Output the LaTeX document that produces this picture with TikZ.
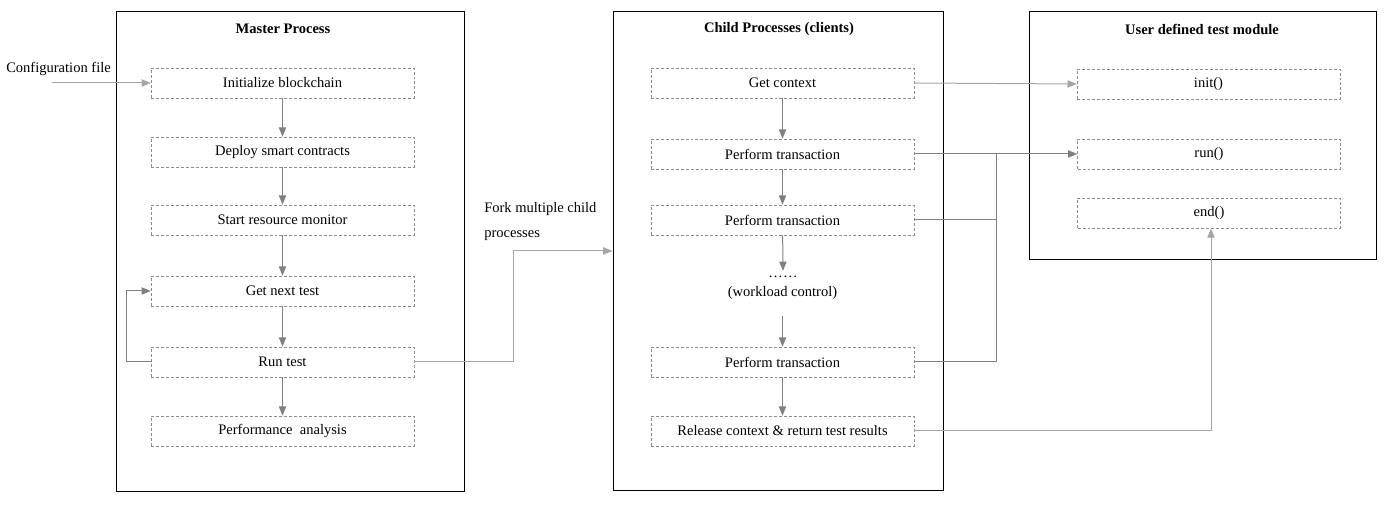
\documentclass[tikz,border=0pt]{standalone}
\usepackage{fontspec}
\setmainfont{Liberation Serif}
\usetikzlibrary{arrows.meta,positioning,calc}

\definecolor{flowgray}{RGB}{128,128,128}
\definecolor{lightflow}{RGB}{165,165,165}
\definecolor{dashgray}{RGB}{140,140,140}

\tikzset{
  outerbox/.style={draw=black, line width=0.75pt},
  stepbox/.style={draw=dashgray, dash pattern=on 2.2pt off 1.5pt, line width=0.5pt,
    minimum width=197pt, minimum height=22.5pt, inner sep=0pt},
  boxtitle/.style={font=\fontsize{10.9}{13}\selectfont\bfseries},
  flow/.style={draw=flowgray, line width=0.75pt, -{Triangle[length=7pt,width=5.5pt]}},
  flowplain/.style={draw=flowgray, line width=0.75pt},
}

\begin{document}
\begin{tikzpicture}[x=0.75pt, y=-0.75pt, font=\fontsize{10.9}{13}\selectfont]
    \useasboundingbox (0,0) rectangle (1393,505);

    % Outer containers
    \node[outerbox, minimum width=261pt, minimum height=360pt] (MasterBox) at (290,252) {};
    \node[outerbox, minimum width=247.5pt, minimum height=359.25pt] (ChildBox) at (778,251.5) {};
    \node[outerbox, minimum width=260.25pt, minimum height=186pt] (UserBox) at (1202.5,136) {};

    % Titles
    \node[boxtitle] (MasterTitle) at (283,29) {Master Process};
    \node[boxtitle] (ChildTitle) at (779,29) {Child Processes (clients)};
    \node[boxtitle] (UserTitle) at (1202,29) {User defined test module};

    % Master process steps
    \foreach \name/\y/\txt in {init/83/Initialize blockchain, deploy/152/Deploy smart contracts,
        monitor/220/Start resource monitor, next/291/Get next test, run/362/Run test,
        perf/431/Performance\ \ analysis} {
      \node[stepbox] (\name) at (282.5,\y) {\txt};
    }

    % Child process steps
    \node[stepbox] (ctx) at (782.5,83) {Get context};
    \node[stepbox] (tx1) at (782.5,154) {Perform transaction};
    \node[stepbox] (tx2) at (782.5,220) {Perform transaction};
    \node[inner sep=0pt] (dots) at (783,277) {……};
    \node[inner sep=1pt] (workload) at (782.5,293) {(workload control)};
    \node[stepbox] (tx3) at (782.5,362) {Perform transaction};
    \node[stepbox] (release) at (782.5,431) {Release context \& return test results};

    % User module functions
    \node[stepbox] (initfn) at (1208.5,84) {init()};
    \node[stepbox] (runfn) at (1209,154) {run()};
    \node[stepbox] (endfn) at (1209,213) {end()};

    % Config input
    \node[anchor=west, inner sep=0pt] (config) at (6,69) {Configuration file};
    \coordinate (configIn) at (52,83);
    \draw[flow, draw=lightflow] (configIn) -- (init.west);

    % Master chain
    \draw[flow] (init) -- (deploy);
    \draw[flow] (deploy) -- (monitor);
    \draw[flow] (monitor) -- (next);
    \draw[flow] (next) -- (run);
    \draw[flow] (run) -- (perf);
    \draw[flow] (run.west) -- ++(-24,0) |- (next.west);

    % Fork to children
    \node[align=left, anchor=north west, inner sep=0pt, font=\fontsize{10.9}{19}\selectfont] (forknote) at (484,202) {Fork multiple child\\processes};
    \coordinate (forkBend) at (513,251);
    \draw[flow, draw=lightflow] (run.east) -| (forkBend) -- (ChildBox.west |- forkBend);

    % Child chain
    \draw[flow] (ctx) -- (tx1);
    \draw[flow] (tx1) -- (tx2);
    \draw[flow] (tx2) -- ($(dots.north)+(0,-5)$);
    \draw[flow] ($(workload.south)+(0,15)$) -- (tx3);
    \draw[flow] (tx3) -- (release);

    % Calls into user module
    \draw[flow, draw=lightflow] (ctx.east) -- (initfn.west);
    \draw[flow] (tx1.east) -- (runfn.west);
    \coordinate (bus) at (996,154);
    \draw[flowplain] (tx2.east) -- (tx2.east -| bus);
    \draw[flowplain] (tx3.east) -| (bus);
    \draw[flow, draw=lightflow] (release.east) -| ($(endfn.south)+(2,0)$);
\end{tikzpicture}
\end{document}
